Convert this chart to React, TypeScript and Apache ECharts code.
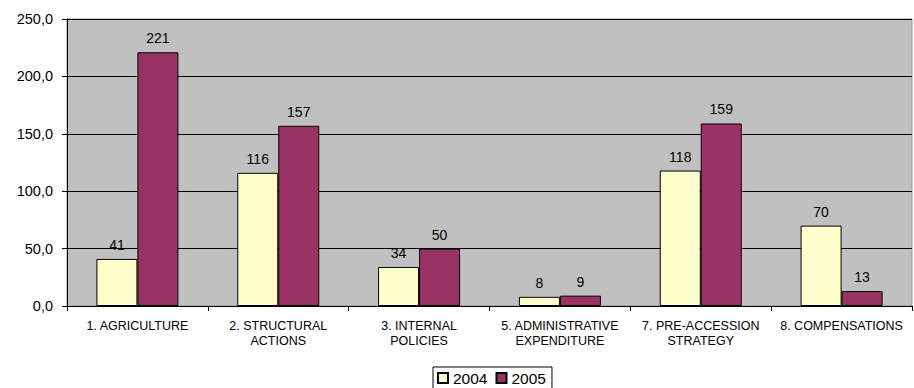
import React, { useEffect, useRef } from "react";
import * as echarts from "echarts";

const categories = [
  "1. AGRICULTURE",
  "2. STRUCTURAL\nACTIONS",
  "3. INTERNAL\nPOLICIES",
  "5. ADMINISTRATIVE\nEXPENDITURE",
  "7. PRE-ACCESSION\nSTRATEGY",
  "8. COMPENSATIONS",
];
const values2004 = [41, 116, 34, 8, 118, 70];
const values2005 = [221, 157, 50, 9, 159, 13];
const seriesNames = ["2004", "2005"];

export default function App() {
  const ref = useRef<HTMLDivElement>(null);
  useEffect(() => {
    if (!ref.current) return;
    const chart = echarts.init(ref.current, undefined, { renderer: "svg" });
    const font = "'Liberation Sans', Arial, sans-serif";
    const label = {
      show: true,
      position: "top",
      distance: 7,
      color: "#000",
      fontSize: 14,
      fontFamily: font,
    };
    chart.setOption({
      animation: false,
      textStyle: { fontFamily: font },
      grid: {
        left: 67,
        right: 2,
        top: 19,
        bottom: 82,
        show: true,
        backgroundColor: "#C0C0C0",
        borderColor: "#909090",
        borderWidth: 1,
      },
      legend: {
        top: 367,
        left: 433,
        data: seriesNames,
        icon: "rect",
        itemWidth: 10,
        itemHeight: 10,
        itemGap: 8,
        borderColor: "#000",
        borderWidth: 1,
        padding: [3, 6, 4, 4],
        textStyle: { color: "#000", fontSize: 15.5, fontFamily: font },
      },
      xAxis: {
        type: "category",
        data: categories,
        axisLine: { lineStyle: { color: "#000", width: 1 } },
        axisTick: { show: true, alignWithLabel: false, length: 5, lineStyle: { color: "#000" } },
        axisLabel: {
          color: "#000",
          fontSize: 12.5,
          fontFamily: font,
          interval: 0,
          margin: 12,
          lineHeight: 15.5,
        },
      },
      yAxis: {
        type: "value",
        min: 0,
        max: 250,
        interval: 50,
        axisLine: { show: true, lineStyle: { color: "#000", width: 1 } },
        axisTick: { show: true, length: 5, lineStyle: { color: "#000" } },
        splitLine: { show: true, lineStyle: { color: "#000", width: 1 } },
        axisLabel: {
          color: "#000",
          fontSize: 14.5,
          fontFamily: font,
          margin: 14,
          formatter: (v: number) => v.toFixed(1).replace(".", ","),
        },
      },
      series: [
        {
          name: seriesNames[0],
          type: "bar",
          data: values2004,
          barWidth: 41,
          barGap: "0%",
          itemStyle: { color: "#FFFFCC", borderColor: "#000", borderWidth: 1 },
          label,
        },
        {
          name: seriesNames[1],
          type: "bar",
          data: values2005,
          barWidth: 41,
          barGap: "0%",
          itemStyle: { color: "#993366", borderColor: "#000", borderWidth: 1 },
          label,
        },
      ],
    });
    return () => chart.dispose();
  }, []);
  return (
    <div
      ref={ref}
      style={{ position: "fixed", left: 0, top: 0, width: 914, height: 388, background: "#fff" }}
    />
  );
}
